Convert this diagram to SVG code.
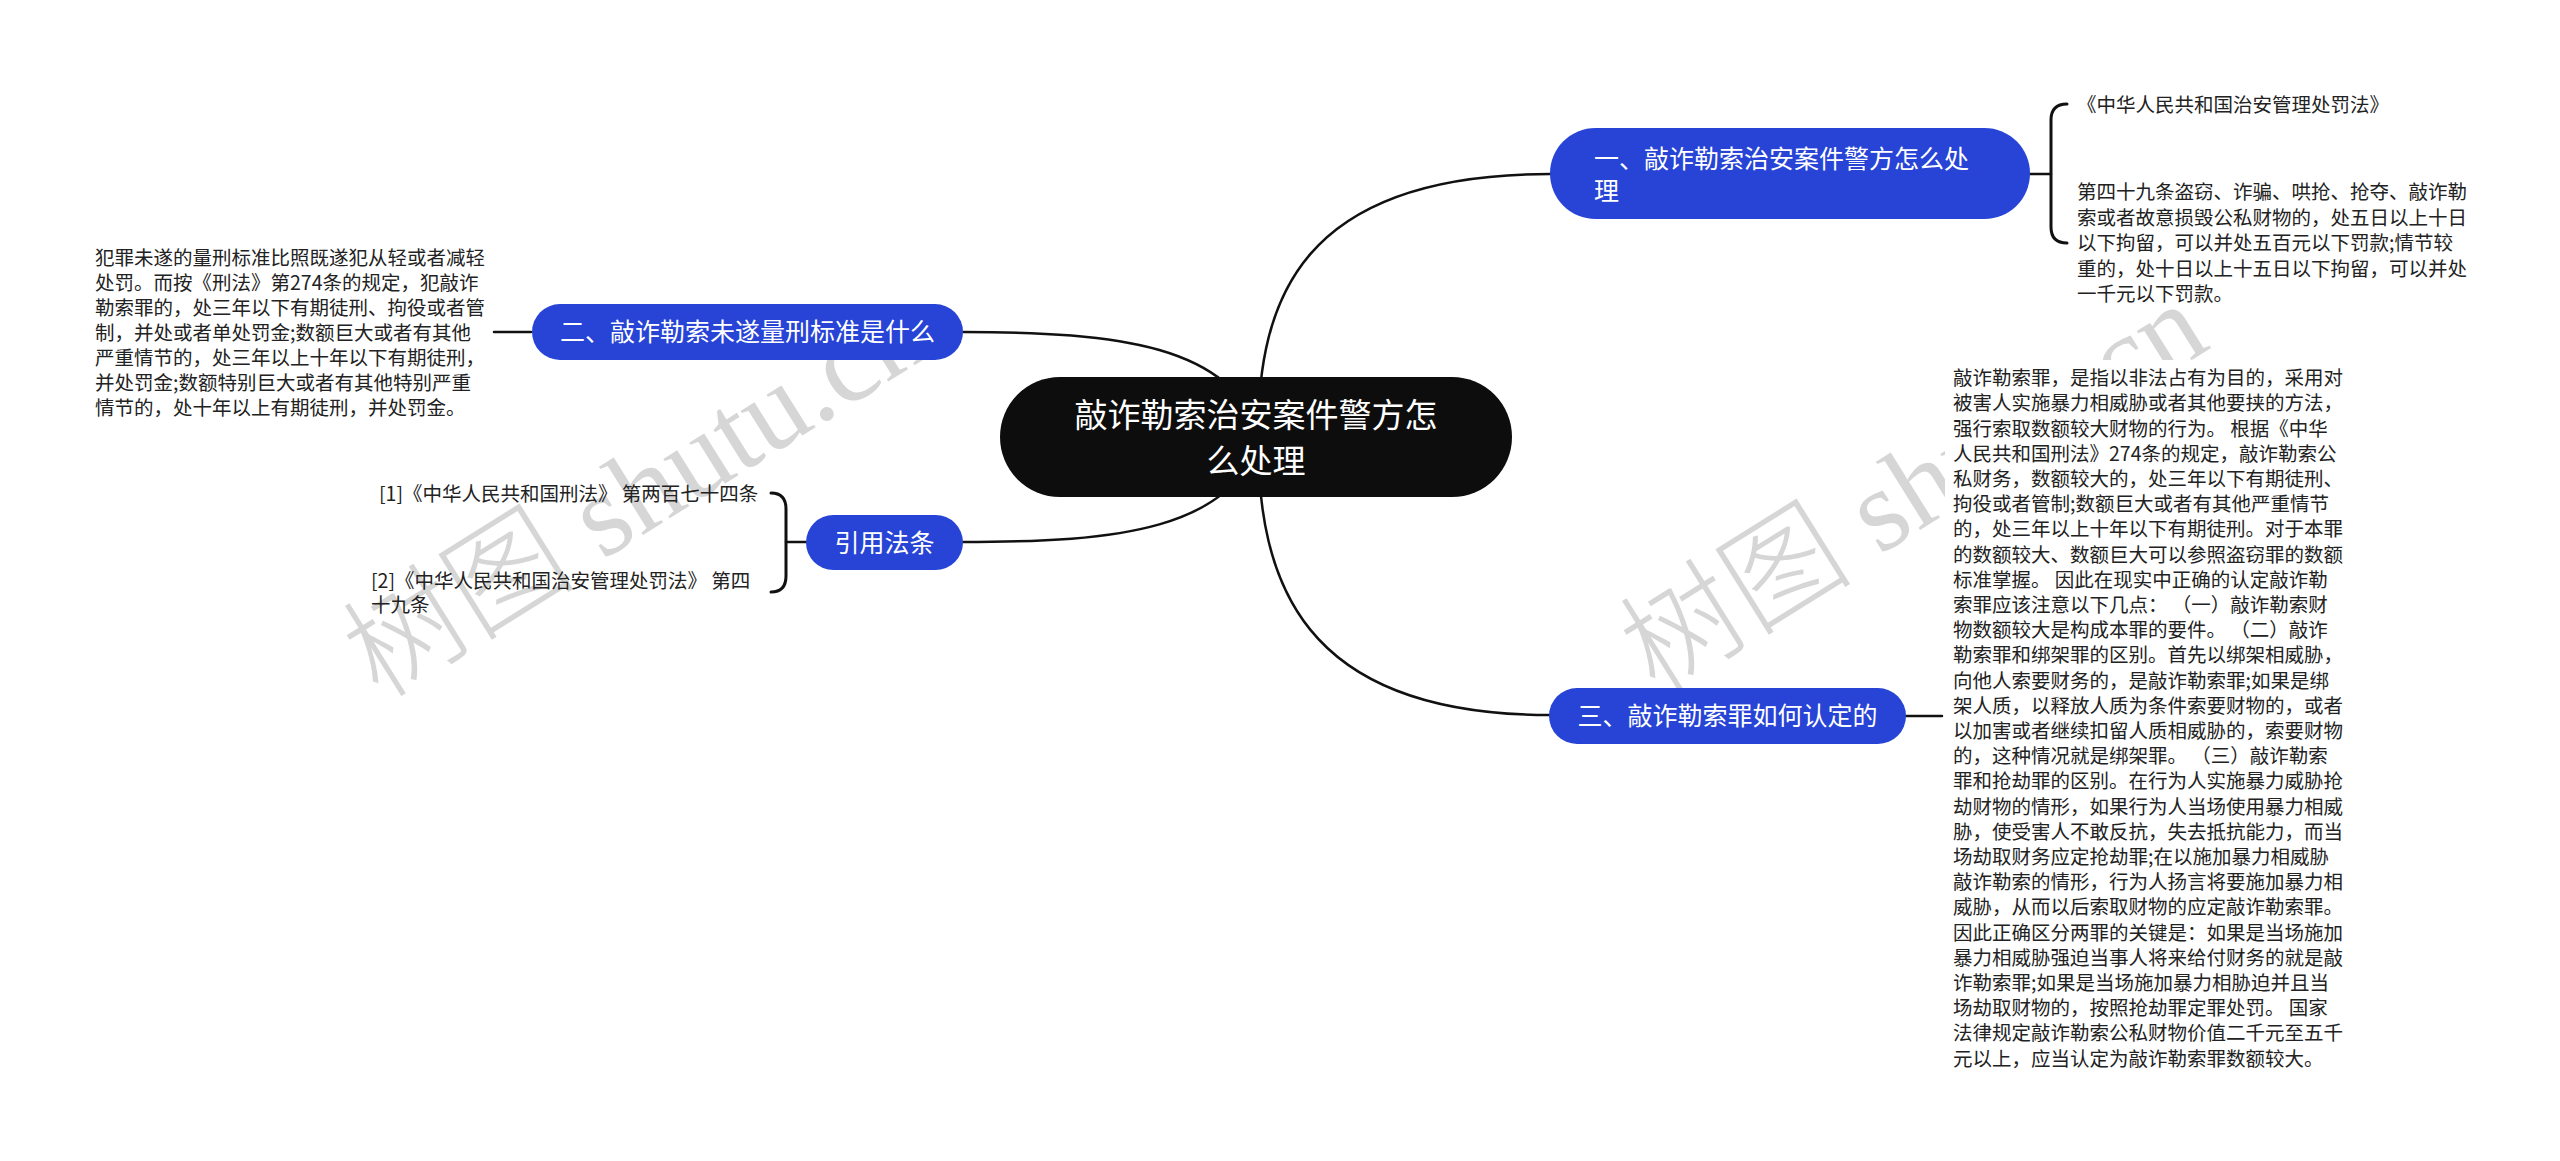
<svg xmlns="http://www.w3.org/2000/svg" width="2560" height="1161" viewBox="0 0 2560 1161">
<style>
.bg{fill:#ffffff}
.wm{fill:#d6d6d6;font-family:"Liberation Serif","Noto Sans CJK SC",serif;font-size:117px;font-weight:normal}
.wmcjk{font-family:"Noto Sans CJK SC",sans-serif;font-weight:300}
.link{fill:none;stroke:#111111;stroke-width:2.5;stroke-linecap:round}
.brace{fill:none;stroke:#111111;stroke-width:3;stroke-linecap:round}
.root{fill:#0d0d0d}
.main{fill:#2744d6}
.rtxt{fill:#ffffff;font-family:"Noto Sans CJK SC","Noto Sans",sans-serif;font-size:33px}
.mtxt{fill:#ffffff;font-family:"Noto Sans CJK SC","Noto Sans",sans-serif;font-size:25px}
.leaf{fill:#222222;font-family:"Noto Sans CJK SC","Noto Sans",sans-serif;font-size:19.5px}
</style>
<rect class="bg" x="0" y="0" width="2560" height="1161"/>
<g id="watermark">
<text class="wm" transform="translate(379,700) rotate(-32)"><tspan class="wmcjk">树图</tspan> shutu.cn</text>
<text class="wm" transform="translate(1656,695) rotate(-32)"><tspan class="wmcjk">树图</tspan> shutu.cn</text>
<rect x="1945" y="360" width="420" height="712" fill="#ffffff"/>
</g>
<g id="connectors">
<path class="link" d="M1258 437 C1258 300 1300 174 1550 174"/>
<path class="link" d="M1258 437 C1258 580 1300 715 1550 715"/>
<path class="link" d="M963 332 C1120 332 1230 345 1262 437"/>
<path class="link" d="M963 542 C1120 542 1230 530 1262 437"/>
<path class="link" d="M2030 174 L2051 174"/>
<path class="brace" d="M2067 104 Q2051 104 2051 120 L2051 227 Q2051 243 2067 243"/>
<path class="link" d="M806 542 L786 542"/>
<path class="brace" d="M771 493 Q786 493 786 509 L786 576 Q786 592 771 592"/>
<path class="link" d="M531 332 L494 332"/>
<path class="link" d="M1906 716 L1942 716"/>
</g>
<g id="root">
<rect class="root" x="1000" y="377" width="512" height="120" rx="60"/>
<text class="rtxt" text-anchor="middle"><tspan x="1256" y="427">敲诈勒索治安案件警方怎</tspan><tspan x="1256" y="473">么处理</tspan></text>
</g>
<g id="node1">
<rect class="main" x="1550" y="128" width="480" height="91" rx="45.5"/>
<text class="mtxt"><tspan x="1594" y="168">一、敲诈勒索治安案件警方怎么处</tspan><tspan x="1594" y="200">理</tspan></text>
</g>
<g id="node1-law">
<text class="leaf" x="2077" y="111.5">《中华人民共和国治安管理处罚法》</text>
</g>
<g id="node1-article">
<text class="leaf"><tspan x="2077" y="199.4">第四十九条盗窃、诈骗、哄抢、抢夺、敲诈勒</tspan><tspan x="2077" y="224.9">索或者故意损毁公私财物的，处五日以上十日</tspan><tspan x="2077" y="250.4">以下拘留，可以并处五百元以下罚款;情节较</tspan><tspan x="2077" y="275.9">重的，处十日以上十五日以下拘留，可以并处</tspan><tspan x="2077" y="301.4">一千元以下罚款。</tspan></text>
</g>
<g id="node2">
<rect class="main" x="532" y="304" width="431" height="56" rx="28"/>
<text class="mtxt" x="747.5" y="341" text-anchor="middle">二、敲诈勒索未遂量刑标准是什么</text>
</g>
<g id="node2-detail">
<text class="leaf"><tspan x="95" y="265.4">犯罪未遂的量刑标准比照既遂犯从轻或者减轻</tspan><tspan x="95" y="290.4">处罚。而按《刑法》第274条的规定，犯敲诈</tspan><tspan x="95" y="315.4">勒索罪的，处三年以下有期徒刑、拘役或者管</tspan><tspan x="95" y="340.4">制，并处或者单处罚金;数额巨大或者有其他</tspan><tspan x="95" y="365.4">严重情节的，处三年以上十年以下有期徒刑，</tspan><tspan x="95" y="390.4">并处罚金;数额特别巨大或者有其他特别严重</tspan><tspan x="95" y="415.4">情节的，处十年以上有期徒刑，并处罚金。</tspan></text>
</g>
<g id="node-cite">
<rect class="main" x="806" y="515" width="157" height="55" rx="27.5"/>
<text class="mtxt" x="884.5" y="552" text-anchor="middle">引用法条</text>
</g>
<g id="cite1">
<text class="leaf" x="379" y="500.5">[1]《中华人民共和国刑法》 第两百七十四条</text>
</g>
<g id="cite2">
<text class="leaf"><tspan x="371" y="587.5">[2]《中华人民共和国治安管理处罚法》 第四</tspan><tspan x="371" y="612">十九条</tspan></text>
</g>
<g id="node3">
<rect class="main" x="1549" y="688" width="357" height="56" rx="28"/>
<text class="mtxt" x="1727.5" y="725" text-anchor="middle">三、敲诈勒索罪如何认定的</text>
</g>
<g id="node3-detail">
<text class="leaf"><tspan x="1953" y="385.2">敲诈勒索罪，是指以非法占有为目的，采用对</tspan><tspan x="1953" y="410.4">被害人实施暴力相威胁或者其他要挟的方法，</tspan><tspan x="1953" y="435.6">强行索取数额较大财物的行为。 根据《中华</tspan><tspan x="1953" y="460.8">人民共和国刑法》274条的规定，敲诈勒索公</tspan><tspan x="1953" y="486">私财务，数额较大的，处三年以下有期徒刑、</tspan><tspan x="1953" y="511.2">拘役或者管制;数额巨大或者有其他严重情节</tspan><tspan x="1953" y="536.4">的，处三年以上十年以下有期徒刑。对于本罪</tspan><tspan x="1953" y="561.6">的数额较大、数额巨大可以参照盗窃罪的数额</tspan><tspan x="1953" y="586.8">标准掌握。 因此在现实中正确的认定敲诈勒</tspan><tspan x="1953" y="612">索罪应该注意以下几点：  （一）敲诈勒索财</tspan><tspan x="1953" y="637.2">物数额较大是构成本罪的要件。  （二）敲诈</tspan><tspan x="1953" y="662.4">勒索罪和绑架罪的区别。首先以绑架相威胁，</tspan><tspan x="1953" y="687.6">向他人索要财务的，是敲诈勒索罪;如果是绑</tspan><tspan x="1953" y="712.8">架人质，以释放人质为条件索要财物的，或者</tspan><tspan x="1953" y="738">以加害或者继续扣留人质相威胁的，索要财物</tspan><tspan x="1953" y="763.2">的，这种情况就是绑架罪。  （三）敲诈勒索</tspan><tspan x="1953" y="788.4">罪和抢劫罪的区别。在行为人实施暴力威胁抢</tspan><tspan x="1953" y="813.6">劫财物的情形，如果行为人当场使用暴力相威</tspan><tspan x="1953" y="838.8">胁，使受害人不敢反抗，失去抵抗能力，而当</tspan><tspan x="1953" y="864">场劫取财务应定抢劫罪;在以施加暴力相威胁</tspan><tspan x="1953" y="889.2">敲诈勒索的情形，行为人扬言将要施加暴力相</tspan><tspan x="1953" y="914.4">威胁，从而以后索取财物的应定敲诈勒索罪。</tspan><tspan x="1953" y="939.6">因此正确区分两罪的关键是：如果是当场施加</tspan><tspan x="1953" y="964.8">暴力相威胁强迫当事人将来给付财务的就是敲</tspan><tspan x="1953" y="990">诈勒索罪;如果是当场施加暴力相胁迫并且当</tspan><tspan x="1953" y="1015.2">场劫取财物的，按照抢劫罪定罪处罚。 国家</tspan><tspan x="1953" y="1040.4">法律规定敲诈勒索公私财物价值二千元至五千</tspan><tspan x="1953" y="1065.6">元以上，应当认定为敲诈勒索罪数额较大。</tspan></text>
</g>
</svg>
